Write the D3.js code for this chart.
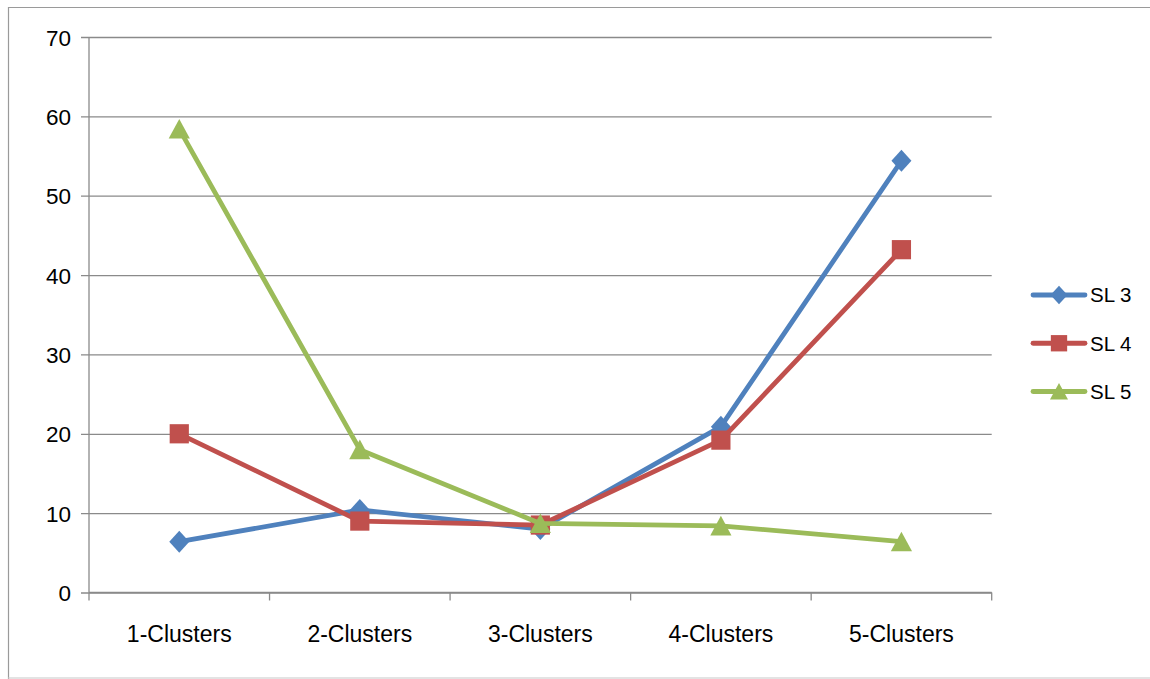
<!DOCTYPE html>
<html><head><meta charset="utf-8">
<script src="https://cdn.jsdelivr.net/npm/d3@7"></script>
<style>html,body{margin:0;padding:0;background:#fff;}svg{display:block;}</style>
</head><body>
<svg id="c" width="1150" height="679"></svg>
<script>
const categories = ["1-Clusters","2-Clusters","3-Clusters","4-Clusters","5-Clusters"];
const seriesNames = ["SL 3","SL 4","SL 5"];
const sl3 = [6.4, 10.4, 8.0, 20.9, 54.4];
const sl4 = [20.0, 9.0, 8.5, 19.2, 43.2];
const sl5 = [58.4, 18.0, 8.7, 8.4, 6.4];
const yTicks = [0,10,20,30,40,50,60,70];
const colors = ["#4F81BD","#C0504D","#9BBB59"];
const shapes = ["diamond","square","triangle"];

const svg = d3.select("#c");
const font = "'Liberation Sans', Arial, sans-serif";
const L = 89, R = 991.7, T = 37, B = 592.5;

// outer border
svg.append("path").attr("d","M8.5,679 L8.5,7.5 L1150,7.5").attr("fill","none").attr("stroke","#9a9a9a").attr("stroke-width",1.2);
svg.append("line").attr("x1",8).attr("x2",1150).attr("y1",678).attr("y2",678).attr("stroke","#c8c8c8").attr("stroke-width",1.2);

const x = d3.scaleBand().domain(categories).range([L,R]).padding(0);
const y = d3.scaleLinear().domain([0,70]).range([B,T]);

// gridlines
const yAxis = d3.axisLeft(y).tickValues(yTicks).tickSize(-(R-L)).tickPadding(18).tickFormat(d3.format("d"));
const gy = svg.append("g").attr("transform",`translate(${L},0)`).call(yAxis);
gy.select(".domain").remove();
gy.selectAll(".tick line").attr("stroke","#8a8a8a").attr("stroke-width",1.3).attr("x1",-8);
gy.selectAll(".tick text").attr("font-family",font).attr("font-size",22.5).attr("fill","#000").attr("dy","0.36em");
// y axis line
svg.append("line").attr("x1",L).attr("x2",L).attr("y1",T).attr("y2",B).attr("stroke","#8a8a8a").attr("stroke-width",1.3);

// x axis
const xAxis = d3.axisBottom(x).tickSize(0).tickPadding(33);
const gx = svg.append("g").attr("transform",`translate(0,${B})`).call(xAxis);
gx.select(".domain").remove();
gx.selectAll(".tick text").attr("font-family",font).attr("font-size",23).attr("fill","#000");
const bounds = categories.map(c=>x(c)).concat([x(categories[categories.length-1])+x.bandwidth()]);
svg.append("line").attr("x1",L).attr("x2",R).attr("y1",B).attr("y2",B).attr("stroke","#8a8a8a").attr("stroke-width",1.3);
svg.selectAll(".xt").data(bounds).enter().append("line")
  .attr("x1",d=>d).attr("x2",d=>d).attr("y1",B).attr("y2",B+8).attr("stroke","#8a8a8a").attr("stroke-width",1.3);

function marker(g, shape, cx, cy, color, s){
  if(shape==="diamond"){
    const h=s*0.5;
    g.append("path").attr("d",`M${cx},${cy-h*1.1} L${cx+h},${cy} L${cx},${cy+h*1.1} L${cx-h},${cy} Z`).attr("fill",color);
  } else if(shape==="square"){
    const h=s*0.48;
    g.append("rect").attr("x",cx-h).attr("y",cy-h).attr("width",2*h).attr("height",2*h).attr("fill",color);
  } else {
    const h=s*0.53;
    g.append("path").attr("d",`M${cx},${cy-h*0.95} L${cx+h},${cy+h*0.9} L${cx-h},${cy+h*0.9} Z`).attr("fill",color);
  }
}

const allSeries = [sl3, sl4, sl5];
const line = d3.line().x((d,i)=>x(categories[i])+x.bandwidth()/2).y(d=>y(d));
allSeries.forEach((vals,si)=>{
  const g = svg.append("g");
  g.append("path").attr("d",line(vals)).attr("fill","none").attr("stroke",colors[si]).attr("stroke-width",4.8).attr("stroke-linejoin","round").attr("stroke-linecap","round");
  vals.forEach((v,i)=>marker(g, shapes[si], x(categories[i])+x.bandwidth()/2, y(v), colors[si], 20));
});

// legend
const legY = d3.scalePoint().domain(seriesNames).range([295,391.5]);
seriesNames.forEach((n,si)=>{
  const g = svg.append("g");
  const yy = legY(n);
  g.append("line").attr("x1",1033).attr("x2",1085).attr("y1",yy).attr("y2",yy).attr("stroke",colors[si]).attr("stroke-width",4.8).attr("stroke-linecap","round");
  marker(g, shapes[si], 1059, yy, colors[si], 17);
  g.append("text").attr("x",1090).attr("y",yy).attr("dy","0.36em").attr("font-family",font).attr("font-size",20.5).attr("fill","#000").text(n);
});
</script>
</body></html>
